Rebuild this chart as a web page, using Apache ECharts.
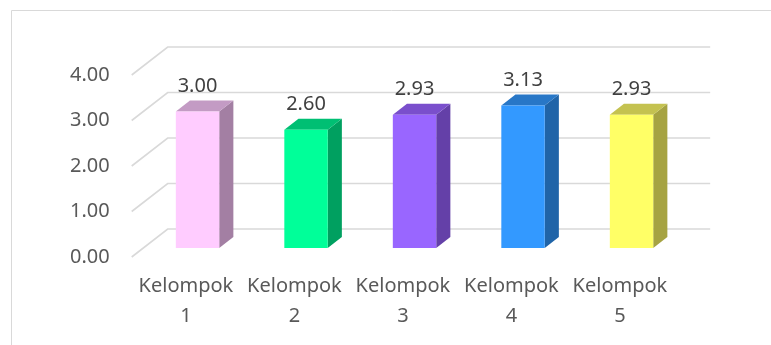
<!DOCTYPE html>
<html>
<head>
<meta charset="utf-8">
<script src="https://cdn.jsdelivr.net/npm/echarts@6/dist/echarts.min.js"></script>
<style>
  html, body { margin: 0; padding: 0; background: #fff; }
  #chart { width: 771px; height: 345px; }
</style>
</head>
<body>
<div id="chart"></div>
<script>
const categories = ["Kelompok\n1", "Kelompok\n2", "Kelompok\n3", "Kelompok\n4", "Kelompok\n5"];
const values = [3.00, 2.60, 2.93, 3.13, 2.93];
const yTicks = [0, 1, 2, 3, 4];

// front / top / side shades of each bar
const frontColors = ["#FFCCFF", "#00FF99", "#9966FF", "#3399FF", "#FFFF66"];
const topColors   = ["#C39BC4", "#00BF73", "#7A4FCC", "#2877C7", "#C4C250"];
const sideColors  = ["#A37FA3", "#00A060", "#6440A8", "#2064A8", "#A6A342"];

// oblique depth of the floor (front -> back), in pixels
const DX = 36, DY = -28;
const barFront = 9 / 28, barBack = 20 / 28;

const font = '"Noto Sans", "Open Sans", sans-serif';

const chart = echarts.init(document.getElementById("chart"));

chart.setOption({
    animation: false,
    grid: { left: 131.7, right: 96.8, top: 75, bottom: 88 },
    graphic: [{
        type: "rect",
        shape: { x: 11.5, y: 10.5, width: 800, height: 400 },
        style: { fill: "none", stroke: "#d9d9d9", lineWidth: 1 },
        silent: true
    }],
    xAxis: {
        type: "category",
        data: categories,
        axisLine: { show: false },
        axisTick: { show: false },
        axisLabel: {
            interval: 0,
            color: "#595959",
            fontFamily: font,
            fontSize: 20,
            lineHeight: 30,
            margin: 14
        }
    },
    yAxis: {
        type: "value",
        min: 0,
        max: 4,
        interval: 1,
        axisLine: { show: false },
        axisTick: { show: false },
        splitLine: { show: false },
        axisLabel: {
            color: "#595959",
            fontFamily: font,
            fontSize: 20,
            margin: 22,
            formatter: v => v.toFixed(2)
        }
    },
    series: [
        {
            // back wall gridlines with their floor diagonals
            type: "custom",
            z: 1,
            silent: true,
            data: yTicks.map(t => [0, t]),
            renderItem: (params, api) => {
                const cs = params.coordSys;
                const y = api.coord([0, api.value(1)])[1];
                return {
                    type: "polyline",
                    shape: {
                        points: [
                            [cs.x, y],
                            [cs.x + DX, y + DY],
                            [cs.x + cs.width + DX, y + DY]
                        ]
                    },
                    style: { stroke: "#d9d9d9", lineWidth: 1.6, fill: null }
                };
            }
        },
        {
            type: "custom",
            z: 2,
            data: values.map((v, i) => [i, v]),
            renderItem: (params, api) => {
                const i = api.value(0);
                const v = api.value(1);
                const base = api.coord([i, 0]);
                const top = api.coord([i, v]);
                const bw = api.size([1, 0])[0] * 0.4;
                const fx = DX * barFront, fy = DY * barFront;
                const dx = DX * (barBack - barFront), dy = DY * (barBack - barFront);
                const x0 = base[0] + fx - bw / 2, x1 = base[0] + fx + bw / 2;
                const y0 = base[1] + fy, y1 = top[1] + fy;
                return {
                    type: "group",
                    children: [
                        {
                            type: "polygon",
                            shape: { points: [[x1, y0], [x1 + dx, y0 + dy], [x1 + dx, y1 + dy], [x1, y1]] },
                            style: { fill: sideColors[i] }
                        },
                        {
                            type: "polygon",
                            shape: { points: [[x0, y1], [x1, y1], [x1 + dx, y1 + dy], [x0 + dx, y1 + dy]] },
                            style: { fill: topColors[i] }
                        },
                        {
                            type: "rect",
                            shape: { x: x0, y: y1, width: bw, height: y0 - y1 },
                            style: { fill: frontColors[i] }
                        },
                        {
                            type: "text",
                            x: (x0 + x1) / 2,
                            y: y1 - 25,
                            style: {
                                text: v.toFixed(2),
                                fill: "#404040",
                                font: "20px " + font,
                                align: "center",
                                verticalAlign: "middle"
                            }
                        }
                    ]
                };
            }
        }
    ]
});
</script>
</body>
</html>
